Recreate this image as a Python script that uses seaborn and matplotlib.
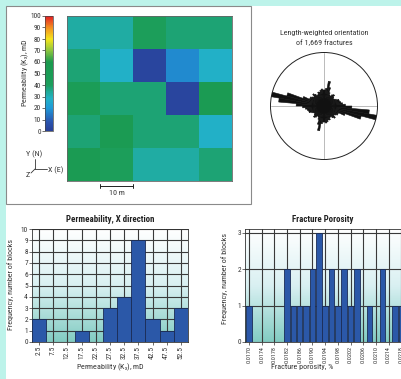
import numpy as np
import matplotlib
matplotlib.use("Agg")
import matplotlib.pyplot as plt
from matplotlib import font_manager as fm
from matplotlib.colors import LinearSegmentedColormap
from matplotlib.patches import Rectangle
from matplotlib.lines import Line2D
import seaborn as sns

sns.set_theme(style="white")

# pick the narrowest available sans family
_entries = fm.fontManager.ttflist
_names = {f.name for f in _entries}
_cond = {f.name for f in _entries if str(f.stretch) in ("condensed", "semi-condensed",
                                                          "extra-condensed", "ultra-condensed")}
base_font = "Liberation Sans"
font_stretch = "normal"
narrow = False
for cand in ["Liberation Sans Narrow", "Roboto Condensed", "Open Sans Condensed"]:
    if cand in _names:
        base_font, narrow = cand, True
        break
else:
    for cand in ["DejaVu Sans", "Noto Sans", "Open Sans", "Roboto"]:
        if cand in _cond:
            base_font, font_stretch, narrow = cand, "condensed", True
            break
plt.rcParams['font.family'] = [base_font, 'DejaVu Sans']
plt.rcParams['font.stretch'] = font_stretch
plt.rcParams['mathtext.fontset'] = 'custom'
plt.rcParams['mathtext.rm'] = base_font
plt.rcParams['mathtext.it'] = base_font
plt.rcParams['mathtext.default'] = 'regular'
scale = 1.0 if narrow else 0.85

# ---------------- data ----------------
perm_grid = [
    [32.5, 32.5, 42.5, 37.5, 37.5],
    [37.5, 27.5, 2.5, 17.5, 27.5],
    [47.5, 37.5, 37.5, 2.5, 52.5],
    [37.5, 52.5, 37.5, 37.5, 27.5],
    [52.5, 42.5, 32.5, 32.5, 37.5],
]
cbar_ticks = [0, 10, 20, 30, 40, 50, 60, 70, 80, 90, 100]

perm_centers = [2.5, 7.5, 12.5, 17.5, 22.5, 27.5, 32.5, 37.5, 42.5, 47.5, 52.5]
perm_counts = [2, 0, 0, 1, 0, 3, 4, 9, 2, 1, 3]
perm_labels = ["2.5", "7.5", "12.5", "17.5", "22.5", "27.5", "32.5", "37.5",
               "42.5", "47.5", "52.5"]

poro_centers = [0.0170, 0.0172, 0.0174, 0.0176, 0.0178, 0.0180, 0.0182, 0.0184,
                0.0186, 0.0188, 0.0190, 0.0192, 0.0194, 0.0196, 0.0198, 0.0200,
                0.0202, 0.0204, 0.0206, 0.0208, 0.0210, 0.0212, 0.0214, 0.0216,
                0.0218]
poro_counts = [1, 0, 0, 0, 0, 0, 2, 1, 1, 1, 2, 3, 1, 2, 1, 2, 1, 2, 0, 1, 0, 2,
               0, 1, 1]
poro_ticks = [0.0170, 0.0174, 0.0178, 0.0182, 0.0186, 0.0190, 0.0194, 0.0198,
              0.0202, 0.0206, 0.0210, 0.0214, 0.0218, 0.0222]
poro_labels = ["0.0170", "0.0174", "0.0178", "0.0182", "0.0186", "0.0190",
               "0.0194", "0.0198", "0.0202", "0.0206", "0.0210", "0.0214",
               "0.0218", "0.0222"]

rose_azimuth = [2.5, 7.5, 12.5, 17.5, 22.5, 27.5, 32.5, 37.5, 42.5, 47.5, 52.5,
                57.5, 62.5, 67.5, 72.5, 77.5, 82.5, 87.5, 92.5, 97.5, 102.5,
                107.5, 112.5, 117.5, 122.5, 127.5, 132.5, 137.5, 142.5, 147.5,
                152.5, 157.5, 162.5, 167.5, 172.5, 177.5]
rose_length = [0.30, 0.33, 0.47, 0.36, 0.27, 0.23, 0.22, 0.26, 0.28, 0.24, 0.22,
               0.23, 0.26, 0.30, 0.30, 0.32, 0.35, 0.40, 0.52, 0.85, 1.00,
               0.72, 0.42, 0.30, 0.30, 0.27, 0.25, 0.30, 0.27, 0.23,
               0.24, 0.28, 0.27, 0.30, 0.32, 0.30]

# ---------------- styling ----------------
W, H = 401, 379
def fx(px):
    return px / W
def fy(py):
    return 1 - py / H

perm_cmap = LinearSegmentedColormap.from_list("perm", [
    (0.00, "#283f96"), (0.08, "#2a55b0"), (0.20, "#1e9ad8"), (0.28, "#22b2c6"),
    (0.34, "#1faa98"), (0.40, "#1c9e5c"), (0.60, "#1a9a4e"), (0.70, "#8dc63f"),
    (0.80, "#f5e51b"), (0.90, "#f39020"), (1.00, "#e31e24")])
grad_cmap = LinearSegmentedColormap.from_list("bg", ["#ffffff", "#d9f0f2", "#82ccc2"])
bar_color = "#2b58a8"
bar_edge = "#1b2c55"
grid_color = "#3a3a3a"
aqua = "#bdf3ea"
txt = "#333333"
tick_fs = 5.3 * scale
poro_tick_fs = 4.4 * scale
label_fs = 5.75 * scale
title_fs = 6.4 * scale

fig = plt.figure(figsize=(W / 100, H / 100), dpi=100)
fig.patch.set_facecolor("white")

# background strips and panel frame
fig.add_artist(Rectangle((0, 0), fx(6), 1, transform=fig.transFigure,
                         facecolor=aqua, edgecolor="none", zorder=0))
fig.add_artist(Rectangle((0, fy(6)), 1, 6 / H, transform=fig.transFigure,
                         facecolor=aqua, edgecolor="none", zorder=0))
fig.add_artist(Rectangle((fx(6), fy(204)), 245 / W, 198 / H, transform=fig.transFigure,
                         facecolor="none", edgecolor="#8a8a8a", lw=0.8, zorder=1))

# ---------------- permeability map ----------------
ax_map = fig.add_axes([fx(67), fy(181), 165 / W, 165 / H])
cax = fig.add_axes([fx(45), fy(131), 8 / W, 115 / H])
sns.heatmap(np.array(perm_grid), cmap=perm_cmap, vmin=0, vmax=100, ax=ax_map,
            cbar_ax=cax, xticklabels=False, yticklabels=False,
            cbar_kws={"ticks": cbar_ticks})
for s in ax_map.spines.values():
    s.set_visible(True)
    s.set_color("#666666")
    s.set_linewidth(0.6)
cax.yaxis.set_ticks_position("left")
cax.yaxis.set_label_position("left")
cax.tick_params(axis="y", labelsize=tick_fs, length=2, width=0.5, pad=1,
                colors=txt, left=True)
cb = ax_map.collections[0].colorbar
cb.outline.set_edgecolor("#444444")
cb.outline.set_linewidth(0.5)
fig.text(fx(25), fy(73), "Permeability (K$_x$), mD", rotation=90, ha="center",
         va="center", fontsize=label_fs, color=txt)

# scale bar (one block = 10 m)
ax_map.plot([1, 2], [5.15, 5.15], color="#222222", lw=0.7, clip_on=False)
ax_map.plot([1, 1], [5.08, 5.22], color="#222222", lw=0.7, clip_on=False)
ax_map.plot([2, 2], [5.08, 5.22], color="#222222", lw=0.7, clip_on=False)
ax_map.text(1.5, 5.36, "10 m", ha="center", va="center", fontsize=label_fs,
            color=txt, clip_on=False)

# axis triad
for xs, ys in [([35, 35], [159, 169]), ([35, 47], [169, 169]), ([35, 31], [169, 173])]:
    fig.add_artist(Line2D([fx(x) for x in xs], [fy(y) for y in ys],
                          transform=fig.transFigure, color=txt, lw=0.6))
fig.text(fx(34), fy(154), "Y (N)", ha="center", va="center", fontsize=label_fs, color=txt)
fig.text(fx(48), fy(170), "X (E)", ha="left", va="center", fontsize=label_fs, color=txt)
fig.text(fx(28), fy(175), "Z", ha="center", va="center", fontsize=label_fs, color=txt)

# ---------------- rose diagram ----------------
ax_r = fig.add_axes([fx(270.5), fy(159.5), 107 / W, 107 / H], projection="polar")
ax_r.set_theta_zero_location("N")
ax_r.set_theta_direction(-1)
theta = np.radians(np.concatenate([rose_azimuth, np.array(rose_azimuth) + 180]))
lengths = np.concatenate([rose_length, rose_length])
ax_r.set_axisbelow(True)
ax_r.bar(theta, lengths, width=np.radians(5), bottom=0, color="#111111",
         edgecolor="#111111", linewidth=0.4, zorder=3)
ax_r.set_ylim(0, 1)
ax_r.set_yticks([])
ax_r.set_xticks(np.radians([0, 90, 180, 270]))
ax_r.set_xticklabels([])
ax_r.grid(True, color="#b0b0b0", lw=0.6)
ax_r.spines["polar"].set_color("#222222")
ax_r.spines["polar"].set_linewidth(0.7)
fig.text(fx(324), fy(33), "Length-weighted orientation", ha="center", va="center",
         fontsize=label_fs, color=txt)
fig.text(fx(324), fy(43), "of 1,669 fractures", ha="center", va="center",
         fontsize=label_fs, color=txt)

# ---------------- histogram helper ----------------
def style_hist(ax, xlim, ylim, xfs):
    ax.imshow(np.linspace(0, 1, 256).reshape(-1, 1), cmap=grad_cmap, aspect="auto",
              extent=[xlim[0], xlim[1], ylim[0], ylim[1]], zorder=0)
    ax.set_xlim(*xlim)
    ax.set_ylim(*ylim)
    ax.set_axisbelow(True)
    ax.grid(True, color=grid_color, lw=0.8)
    for s in ax.spines.values():
        s.set_color(txt)
        s.set_linewidth(0.6)
    ax.tick_params(axis="y", left=True, length=2, width=0.5, pad=1,
                   labelsize=tick_fs, colors=txt)
    ax.tick_params(axis="x", bottom=True, length=2, width=0.5, pad=1,
                   labelsize=xfs, colors=txt, labelrotation=90)
    ax.set_xlabel("")
    ax.set_ylabel("")

# ---------------- permeability histogram ----------------
ax1 = fig.add_axes([fx(32), fy(342), 156 / W, 113 / H])
perm_edges = [c - 2.5 for c in perm_centers] + [perm_centers[-1] + 2.5]
sns.histplot(x=perm_centers, weights=perm_counts, bins=perm_edges, ax=ax1,
             color=bar_color, edgecolor=bar_edge, linewidth=0.6, alpha=1, zorder=3)
style_hist(ax1, (0, 55), (0, 10), tick_fs)
ax1.set_xticks(perm_centers)
ax1.set_xticklabels(perm_labels)
ax1.set_yticks(list(range(0, 11)))
fig.text(fx(110), fy(219), "Permeability, X direction", ha="center", va="center",
         fontsize=title_fs, fontweight="bold", color="#222222")
fig.text(fx(110), fy(367), "Permeability (K$_x$), mD", ha="center", va="center",
         fontsize=label_fs, color=txt)
fig.text(fx(11), fy(285), "Frequency, number of blocks", rotation=90, ha="center",
         va="center", fontsize=label_fs, color=txt)

# ---------------- porosity histogram ----------------
ax2 = fig.add_axes([fx(245), fy(342), 169 / W, 113 / H])
poro_edges = [round(c - 0.0001, 5) for c in poro_centers] + [round(poro_centers[-1] + 0.0001, 5)]
sns.histplot(x=poro_centers, weights=poro_counts, bins=poro_edges, ax=ax2,
             color=bar_color, edgecolor=bar_edge, linewidth=0.6, alpha=1,
             shrink=0.85, zorder=3)
style_hist(ax2, (0.016874, 0.0222), (0, 3.11), poro_tick_fs)
ax2.set_xticks(poro_ticks)
ax2.set_xticklabels(poro_labels)
ax2.set_yticks([0, 1, 2, 3])
fig.text(fx(323), fy(220), "Fracture Porosity", ha="center", va="center",
         fontsize=title_fs, fontweight="bold", color="#222222")
fig.text(fx(302), fy(367), "Fracture porosity, %", ha="center", va="center",
         fontsize=label_fs, color=txt)
fig.text(fx(225), fy(278), "Frequency, number of blocks", rotation=90, ha="center",
         va="center", fontsize=label_fs, color=txt)

fig.savefig("out.png", dpi=100, facecolor=fig.get_facecolor())
